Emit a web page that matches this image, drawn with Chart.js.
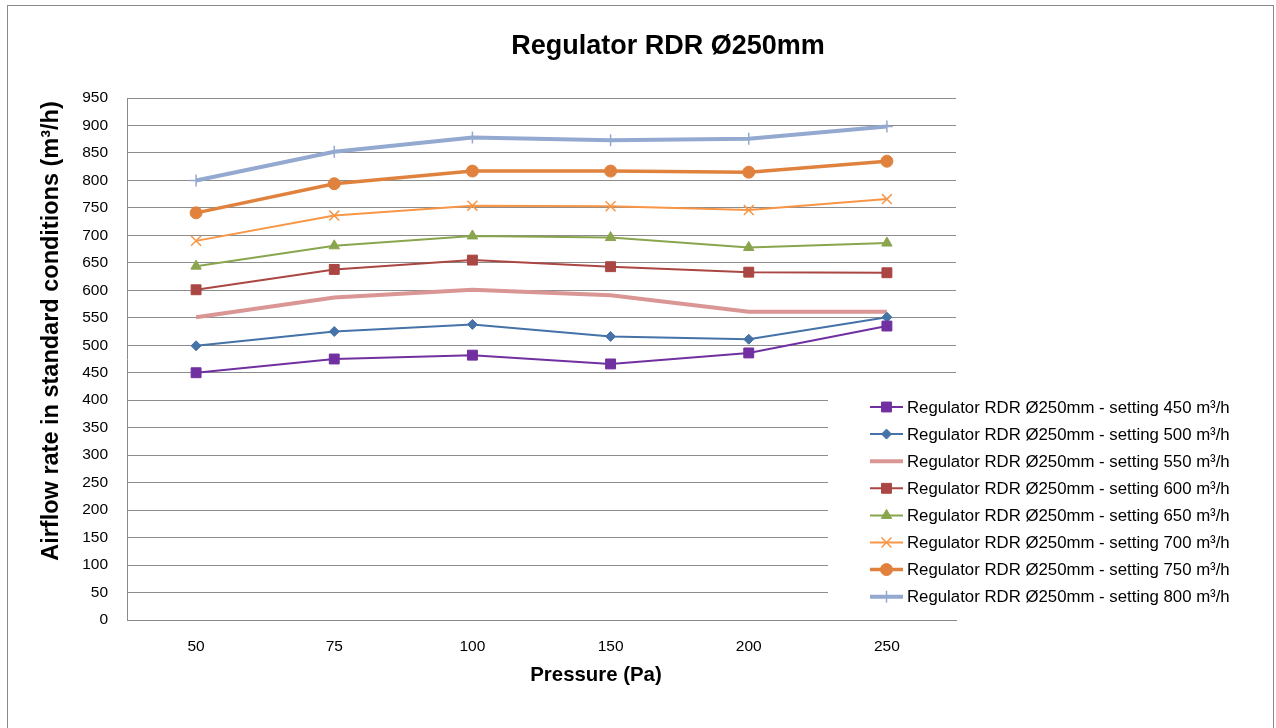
<!DOCTYPE html>
<html>
<head>
<meta charset="utf-8">
<script src="https://cdn.jsdelivr.net/npm/chart.js@4/dist/chart.umd.min.js"></script>
<style>
html,body{margin:0;padding:0;background:#fff;}
#wrap{width:1276px;height:728px;position:relative;}
</style>
</head>
<body>
<div id="wrap"><canvas id="c" width="1276" height="728"></canvas></div>
<script>
const pressures = ['50', '75', '100', '150', '200', '250'];
const yTicks = [0,50,100,150,200,250,300,350,400,450,500,550,600,650,700,750,800,850,900,950];
const chartTitle = 'Regulator RDR Ø250mm';
const xTitle = 'Pressure (Pa)';
const yTitle = 'Airflow rate in standard conditions (m³/h)';

const s450 = [450, 475, 482, 466, 486, 535];
const s500 = [499, 525, 538, 516, 511, 551];
const s550 = [551, 587, 601, 591, 561, 561];
const s600 = [601, 638, 655, 643, 633, 632];
const s650 = [644, 681, 699, 696, 678, 686];
const s700 = [690, 736, 754, 753, 746, 766];
const s750 = [741, 794, 817, 817, 815, 835];
const s800 = [800, 852, 878, 873, 876, 898];

const seriesLabels = [
  'Regulator RDR Ø250mm - setting 450 m³/h',
  'Regulator RDR Ø250mm - setting 500 m³/h',
  'Regulator RDR Ø250mm - setting 550 m³/h',
  'Regulator RDR Ø250mm - setting 600 m³/h',
  'Regulator RDR Ø250mm - setting 650 m³/h',
  'Regulator RDR Ø250mm - setting 700 m³/h',
  'Regulator RDR Ø250mm - setting 750 m³/h',
  'Regulator RDR Ø250mm - setting 800 m³/h'
];

const styles = [
  {c:'#7030A0', w:2, ps:'rect', r:7},
  {c:'#4572A7', w:2, ps:'rectRot', r:5},
  {c:'#D99694', w:4, ps:false, r:0},
  {c:'#AA4643', w:2, ps:'rect', r:7},
  {c:'#89A54E', w:2, ps:'triangle', r:6},
  {c:'#F79646', w:2, ps:'crossRot', r:7},
  {c:'#E0823D', w:3.5, ps:'circle', r:6},
  {c:'#93A9CF', w:4, ps:'cross', r:6}
];
const allData = [s450, s500, s550, s600, s650, s700, s750, s800];

const datasets = allData.map((d, i) => {
  const s = styles[i];
  return {
    label: seriesLabels[i],
    data: d,
    borderColor: s.c,
    backgroundColor: s.c,
    borderWidth: s.w,
    pointStyle: s.ps,
    pointRadius: s.ps ? s.r : 0,
    pointBorderColor: s.c,
    pointBackgroundColor: s.c,
    pointBorderWidth: (s.ps === 'cross' || s.ps === 'crossRot') ? 1.5 : 1,
    tension: 0,
    fill: false
  };
});

const FONT = "'Liberation Sans', Arial, sans-serif";

const decor = {
  id: 'decor',
  beforeDatasetsDraw(chart) {
    const ctx = chart.ctx;
    ctx.save();
    ctx.fillStyle = '#ffffff';
    ctx.fillRect(828, 391, 420, 220);
    ctx.restore();
  },
  afterDraw(chart) {
    const ctx = chart.ctx;
    ctx.save();
    // outer frame
    ctx.strokeStyle = '#8a8a8a';
    ctx.lineWidth = 1;
    ctx.strokeRect(7.5, 5.5, 1266, 740);
    // title
    ctx.fillStyle = '#000';
    ctx.textAlign = 'center';
    ctx.textBaseline = 'middle';
    ctx.font = "bold 27px " + FONT;
    ctx.fillText(chartTitle, 668, 47);
    // x title
    ctx.font = "bold 20.4px " + FONT;
    ctx.fillText(xTitle, 596, 675);
    // y title
    ctx.save();
    ctx.translate(52, 331);
    ctx.rotate(-Math.PI/2);
    ctx.font = "bold 23.5px " + FONT;
    ctx.fillText(yTitle, 0, 0);
    ctx.restore();
    // legend
    ctx.textAlign = 'left';
    ctx.font = "16.8px " + FONT;
    chart.data.datasets.forEach((ds, i) => {
      const y = 407 + i * 27.1;
      ctx.strokeStyle = ds.borderColor;
      ctx.lineWidth = ds.borderWidth;
      ctx.beginPath();
      ctx.moveTo(870, y);
      ctx.lineTo(903, y);
      ctx.stroke();
      if (ds.pointStyle) {
        ctx.fillStyle = ds.pointBackgroundColor;
        ctx.strokeStyle = ds.pointBorderColor;
        ctx.lineWidth = ds.pointBorderWidth;
        Chart.helpers.drawPoint(ctx, {pointStyle: ds.pointStyle, radius: ds.pointRadius, rotation: 0, borderWidth: ds.pointBorderWidth}, 886.5, y);
      }
      ctx.fillStyle = '#000';
      ctx.fillText(ds.label, 907, y + 1);
    });
    ctx.restore();
  }
};

new Chart(document.getElementById('c'), {
  type: 'line',
  data: { labels: pressures, datasets: datasets },
  options: {
    responsive: false,
    animation: false,
    layout: { padding: { left: 0, top: 98, right: 320, bottom: 0 } },
    plugins: { legend: { display: false }, title: { display: false }, tooltip: { enabled: false } },
    scales: {
      x: {
        type: 'category',
        offset: true,
        grid: { display: false, drawTicks: false },
        border: { display: true, color: '#8a8a8a', width: 1 },
        ticks: { color: '#000', font: { family: FONT, size: 15.5 }, padding: 17, maxRotation: 0 },
        afterFit(s) { s.height = 108; }
      },
      y: {
        min: 0, max: 950,
        afterBuildTicks(s) { s.ticks = yTicks.map(v => ({ value: v })); },
        grid: { color: '#8c8c8c', lineWidth: 1, drawTicks: false },
        border: { display: true, color: '#8a8a8a', width: 1 },
        ticks: { color: '#000', font: { family: FONT, size: 15.5 }, padding: 19 },
        afterFit(s) { s.width = 127; }
      }
    }
  },
  plugins: [decor]
});
</script>
</body>
</html>
